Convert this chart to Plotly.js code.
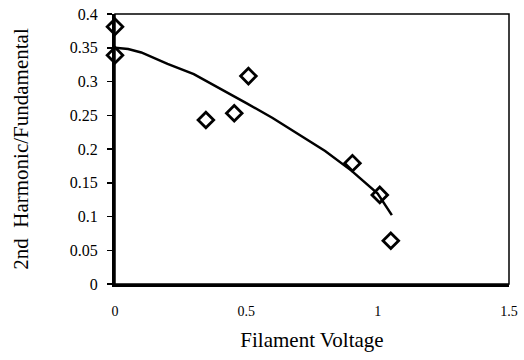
<!DOCTYPE html>
<html><head><meta charset="utf-8">
<script src="https://cdn.plot.ly/plotly-3.0.1.min.js"></script>
<style>html,body{margin:0;padding:0;background:#fff}#c{width:524px;height:360px}</style>
</head><body><div id="c"></div>
<script>
const pointX = [0, 0, 0.346, 0.454, 0.508, 0.904, 1.008, 1.05];
const pointY = [0.381, 0.339, 0.243, 0.253, 0.308, 0.179, 0.132, 0.064];
const fitX = [0, 0.05, 0.1, 0.2, 0.3, 0.4, 0.5, 0.6, 0.7, 0.8, 0.9, 1.0, 1.054];
const fitY = [0.350, 0.348, 0.343, 0.326, 0.311, 0.290, 0.268, 0.246, 0.222, 0.197, 0.168, 0.134, 0.102];
const yTicks = [0, 0.05, 0.1, 0.15, 0.2, 0.25, 0.3, 0.35, 0.4];
const yTickText = ["0", "0.05", "0.1", "0.15", "0.2", "0.25", "0.3", "0.35", "0.4"];
const xTicks = [0, 0.5, 1, 1.5];
const xTickText = ["0", "0.5", "1", "1.5"];

const traces = [
  {x: fitX, y: fitY, mode: 'lines', line: {color: '#000', width: 2.5}, hoverinfo: 'skip', cliponaxis: false},
  {x: pointX, y: pointY, mode: 'markers', cliponaxis: false,
   marker: {symbol: 'diamond-open', size: 12, color: '#000', line: {width: 2.8, color: '#000'}}}
];
const font = {family: '"Liberation Serif", "Times New Roman", serif', color: '#000'};
const layout = {
  width: 524, height: 360,
  margin: {l: 115, r: 15, t: 14, b: 76},
  showlegend: false,
  paper_bgcolor: '#fff', plot_bgcolor: '#fff',
  font: font,
  xaxis: {
    range: [0, 1.5], tickvals: xTicks, ticktext: xTickText,
    showgrid: false, zeroline: false, showline: true, linewidth: 2.5, linecolor: '#000',
    ticks: '', ticklabelstandoff: 13, tickfont: {size: 14, family: font.family},
    title: {text: 'Filament Voltage', font: {size: 21, family: font.family}, standoff: 14}
  },
  yaxis: {
    range: [0, 0.4], tickvals: yTicks, ticktext: yTickText,
    showgrid: false, zeroline: false, showline: true, linewidth: 3, linecolor: '#000',
    ticks: 'outside', ticklen: 5, tickwidth: 1.5, tickcolor: '#000',
    ticklabelstandoff: 6,
    tickfont: {size: 16, family: font.family},
    title: {text: '2nd&nbsp;&nbsp;Harmonic/Fundamental', font: {size: 21, family: font.family}, standoff: 36}
  },
  shapes: [
    {type: 'rect', xref: 'paper', yref: 'paper', x0: 0, x1: 1, y0: 0, y1: 1,
     line: {color: '#000', width: 1.5}}
  ]
};
Plotly.newPlot('c', traces, layout, {staticPlot: true});
</script>
</body></html>
